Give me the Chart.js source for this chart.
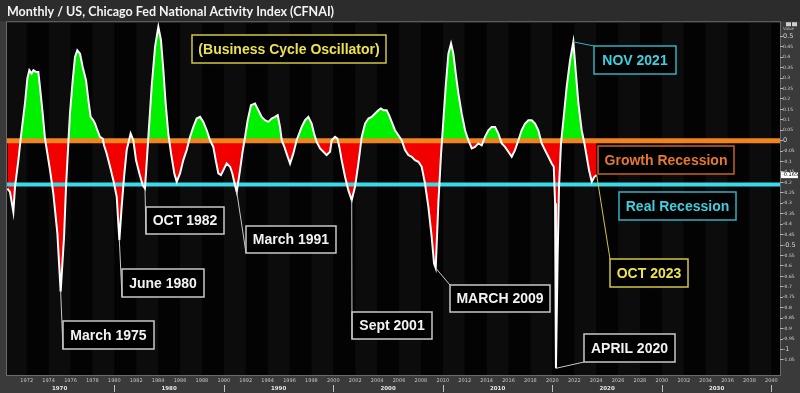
<!DOCTYPE html>
<html>
<head>
<meta charset="utf-8">
<script src="https://cdn.jsdelivr.net/npm/chart.js@4.4.0/dist/chart.umd.min.js"></script>
<style>
  html, body { margin: 0; padding: 0; background: #3a3a3a; }
  canvas { display: block; }
</style>
</head>
<body>
<canvas id="chart" width="800" height="393"></canvas>
<script>
// CFNAI oscillator (decimal year, value)
const years = [
  1970.23, 1970.47, 1970.78, 1970.93, 1971.24, 1971.45, 1971.84, 1972.06, 1972.24, 1972.45,
  1972.61, 1972.85, 1973.06, 1973.21, 1973.46, 1973.67, 1974.13, 1974.43, 1974.80, 1975.10,
  1975.41, 1975.59, 1975.80, 1975.95, 1976.20, 1976.41, 1976.62, 1976.87, 1977.11, 1977.42,
  1977.63, 1977.84, 1978.08, 1978.24, 1978.45, 1978.69, 1978.94, 1979.06, 1979.30, 1979.61,
  1979.91, 1980.22, 1980.46, 1980.67, 1980.89, 1981.13, 1981.49, 1981.74, 1981.98, 1982.29,
  1982.59, 1982.80, 1983.11, 1983.41, 1983.72, 1984.02, 1984.26, 1984.48, 1984.69, 1984.93,
  1985.18, 1985.48, 1985.70, 1986.00, 1986.30, 1986.61, 1986.91, 1987.22, 1987.52, 1987.83,
  1988.13, 1988.44, 1988.74, 1989.04, 1989.26, 1989.50, 1989.74, 1989.96, 1990.26, 1990.57,
  1990.78, 1991.02, 1991.18, 1991.48, 1991.69, 1991.94, 1992.18, 1992.48, 1992.85, 1993.15,
  1993.46, 1993.76, 1994.07, 1994.37, 1994.68, 1994.92, 1995.13, 1995.29, 1995.53, 1995.83,
  1996.05, 1996.35, 1996.65, 1997.11, 1997.42, 1997.72, 1998.02, 1998.24, 1998.48, 1998.79,
  1999.09, 1999.39, 1999.70, 1999.85, 2000.16, 2000.37, 2000.55, 2000.76, 2001.07, 2001.37,
  2001.68, 2001.98, 2002.29, 2002.59, 2002.90, 2003.20, 2003.50, 2003.81, 2004.11, 2004.33,
  2004.57, 2004.87, 2005.09, 2005.33, 2005.63, 2005.94, 2006.24, 2006.55, 2006.85, 2007.16,
  2007.46, 2007.77, 2008.07, 2008.37, 2008.68, 2008.98, 2009.20, 2009.35, 2009.59, 2009.84,
  2010.05, 2010.26, 2010.51, 2010.75, 2010.96, 2011.18, 2011.42, 2011.72, 2012.03, 2012.33,
  2012.64, 2012.94, 2013.24, 2013.55, 2013.85, 2014.16, 2014.46, 2014.77, 2015.07, 2015.38,
  2015.68, 2015.98, 2016.29, 2016.59, 2016.90, 2017.20, 2017.51, 2017.81, 2018.12, 2018.42,
  2018.72, 2019.03, 2019.33, 2019.64, 2019.94, 2020.13, 2020.25, 2020.33, 2020.49, 2020.61,
  2020.79, 2021.01, 2021.31, 2021.62, 2021.92, 2022.13, 2022.38, 2022.68, 2022.93, 2023.14,
  2023.35, 2023.60, 2023.84, 2024.05
];
const values = [
  -0.229, -0.245, -0.341, -0.221, -0.093, 0.010, 0.178, 0.298, 0.337, 0.321,
  0.337, 0.329, 0.329, 0.258, 0.130, 0.010, -0.141, -0.253, -0.444, -0.723,
  -0.460, -0.221, -0.013, 0.130, 0.289, 0.401, 0.433, 0.417, 0.353, 0.289,
  0.194, 0.114, 0.098, 0.082, 0.050, 0.018, 0.010, -0.022, -0.061, -0.125,
  -0.189, -0.269, -0.476, -0.317, -0.173, -0.045, 0.034, 0.002, -0.093, -0.157,
  -0.213, -0.229, 0.018, 0.258, 0.449, 0.545, 0.481, 0.337, 0.178, 0.034,
  -0.061, -0.157, -0.197, -0.157, -0.093, -0.045, 0.018, 0.066, 0.106, 0.114,
  0.090, 0.050, 0.002, -0.030, -0.093, -0.157, -0.165, -0.141, -0.109, -0.125,
  -0.157, -0.213, -0.245, -0.141, -0.061, 0.018, 0.098, 0.170, 0.178, 0.146,
  0.114, 0.098, 0.090, 0.106, 0.114, 0.122, 0.066, 0.002, -0.030, -0.077,
  -0.110, -0.061, 0.002, 0.066, 0.098, 0.114, 0.082, 0.034, -0.006, -0.037,
  -0.053, -0.069, -0.053, 0.002, 0.018, 0.010, -0.030, -0.093, -0.173, -0.237,
  -0.285, -0.221, -0.109, 0.018, 0.082, 0.106, 0.114, 0.130, 0.146, 0.154,
  0.146, 0.146, 0.122, 0.090, 0.050, 0.026, 0.002, -0.045, -0.069, -0.077,
  -0.093, -0.101, -0.125, -0.205, -0.317, -0.460, -0.588, -0.610, -0.301, -0.061,
  0.098, 0.258, 0.417, 0.465, 0.417, 0.321, 0.226, 0.130, 0.050, 0.002,
  -0.037, -0.030, -0.013, -0.022, 0.018, 0.050, 0.066, 0.066, 0.034, -0.013,
  -0.030, -0.053, -0.077, -0.045, 0.002, 0.050, 0.082, 0.098, 0.098, 0.082,
  0.050, -0.013, -0.045, -0.077, -0.109, -0.125, -0.300, -1.090, -0.540, -0.221,
  -0.013, 0.098, 0.258, 0.385, 0.473, 0.337, 0.178, 0.050, -0.013, -0.077,
  -0.141, -0.197, -0.173, -0.165
];

const growthLevel = 0;      // orange "Growth Recession" line
const realLevel = -0.21;    // cyan "Real Recession" line

const yearTicks = [1972, 1974, 1976, 1978, 1980, 1982, 1984, 1986, 1988, 1990, 1992, 1994, 1996, 1998,
  2000, 2002, 2004, 2006, 2008, 2010, 2012, 2014, 2016, 2018, 2020, 2022, 2024, 2026, 2028, 2030,
  2032, 2034, 2036, 2038, 2040];
const decadeLabels = ['1970', '1980', '1990', '2000', '2010', '2020', '2030'];
const valueTicks = [0.5, 0.45, 0.4, 0.35, 0.3, 0.25, 0.2, 0.15, 0.1, 0.05, 0, -0.05, -0.1, -0.15,
  -0.2, -0.25, -0.3, -0.35, -0.4, -0.45, -0.5, -0.55, -0.6, -0.65, -0.7, -0.75, -0.8, -0.85,
  -0.9, -0.95, -1, -1.05];

const X_MIN = 1970.2, X_MAX = 2040.79;
const Y_MIN = -1.122, Y_MAX = 0.567;

const WHITE = '#f2f2f2', WHITE_EDGE = '#c8c8c8';
const CYAN = '#3cd0e0', CYAN_EDGE = '#2fb0c2';
const YELLOW = '#ece24a', YELLOW_EDGE = '#cfc640';
const ORANGE = '#e8782a', ORANGE_EDGE = '#c8641e';

// callouts: box = [left, top, width, height] in px, at = anchor year on the series
const notes = [
  { text: '(Business Cycle Oscillator)', box: [192, 35, 194, 28], color: YELLOW, edge: YELLOW_EDGE },
  { text: 'NOV 2021', at: 2021.92, box: [594, 46, 82, 28], corner: 'tl', color: CYAN, edge: CYAN_EDGE },
  { text: 'Growth Recession', box: [598, 146, 136, 28], color: ORANGE, edge: ORANGE_EDGE },
  { text: 'Real Recession', box: [619, 192, 117, 28], color: CYAN, edge: CYAN_EDGE },
  { text: 'OCT 2023', at: 2024.05, box: [610, 259, 78, 28], corner: 'tl', color: YELLOW, edge: YELLOW_EDGE },
  { text: 'March 1975', at: 1975.10, box: [63, 321, 91, 28], corner: 'bl', color: WHITE, edge: WHITE_EDGE },
  { text: 'June 1980', at: 1980.46, box: [122, 269, 82, 28], corner: 'bl', color: WHITE, edge: WHITE_EDGE },
  { text: 'OCT 1982', at: 1982.80, box: [146, 207, 78, 27], corner: 'bl', color: WHITE, edge: WHITE_EDGE },
  { text: 'March 1991', at: 1991.18, box: [246, 226, 90, 27], corner: 'bl', color: WHITE, edge: WHITE_EDGE },
  { text: 'Sept 2001', at: 2001.68, box: [352, 312, 80, 27], corner: 'bl', color: WHITE, edge: WHITE_EDGE },
  { text: 'MARCH 2009', at: 2009.35, box: [450, 285, 100, 27], corner: 'tl', color: WHITE, edge: WHITE_EDGE },
  { text: 'APRIL 2020', at: 2020.33, box: [584, 334, 91, 28], corner: 'bl', color: WHITE, edge: WHITE_EDGE }
];

const points = years.map((yr, i) => ({ x: yr, y: values[i] }));

function nearestIndex(yr) {
  let best = 0;
  years.forEach((v, i) => { if (Math.abs(v - yr) < Math.abs(years[best] - yr)) best = i; });
  return best;
}

const backdrop = {
  id: 'backdrop',
  beforeDraw(chart) {
    const { ctx, chartArea: a, scales } = chart;
    ctx.save();
    ctx.fillStyle = '#3a3a3a';
    ctx.fillRect(0, 0, chart.width, chart.height);
    ctx.fillStyle = '#2c2c2c';
    ctx.fillRect(0, 0, chart.width, a.top - 1);
    ctx.fillStyle = '#030303';
    ctx.fillRect(a.left, a.top, a.right - a.left, a.bottom - a.top);
    // alternating vertical bands
    ctx.fillStyle = '#0c0c0c';
    for (let yr = 1970; yr < 2042; yr += 4) {
      const l = Math.max(a.left, scales.x.getPixelForValue(yr));
      const r = Math.min(a.right, scales.x.getPixelForValue(yr + 2));
      if (r > l) ctx.fillRect(l, a.top, r - l, a.bottom - a.top);
    }
    ctx.strokeStyle = '#6a6a6a';
    ctx.lineWidth = 1;
    ctx.strokeRect(a.left - 0.5, a.top - 0.5, a.right - a.left + 1, a.bottom - a.top + 1);
    ctx.restore();
  }
};

const callouts = {
  id: 'callouts',
  afterDatasetsDraw(chart) {
    const { ctx, scales: { x, y } } = chart;
    ctx.save();
    notes.forEach(n => {
      const [bx, by, bw, bh] = n.box;
      ctx.fillStyle = '#000';
      ctx.fillRect(bx, by, bw, bh);
      ctx.strokeStyle = n.edge;
      ctx.lineWidth = 1.5;
      ctx.strokeRect(bx, by, bw, bh);
      if (n.at != null) {
        const i = nearestIndex(n.at);
        ctx.lineWidth = 1;
        ctx.beginPath();
        ctx.moveTo(x.getPixelForValue(years[i]), y.getPixelForValue(values[i]));
        ctx.lineTo(bx, n.corner === 'bl' ? by + bh : by);
        ctx.stroke();
      }
      ctx.fillStyle = n.color;
      ctx.font = 'bold 14px "Liberation Sans", Arial, sans-serif';
      ctx.textAlign = 'center';
      ctx.textBaseline = 'middle';
      ctx.fillText(n.text, bx + bw / 2, by + bh / 2 + 1);
    });
    ctx.restore();
  },
  afterDraw(chart) {
    const { ctx, chartArea: a, scales: { x2, y } } = chart;
    ctx.save();
    // decade separators on the lower axis row
    ctx.strokeStyle = '#c0c0c0';
    ctx.lineWidth = 1;
    decadeLabels.slice(1).concat(['2040']).forEach(d => {
      const px = Math.round(x2.getPixelForValue(Number(d))) + 0.5;
      ctx.beginPath();
      ctx.moveTo(px, x2.top + 1);
      ctx.lineTo(px, x2.bottom - 1);
      ctx.stroke();
    });
    // last value tag on the value axis
    const last = values[values.length - 1];
    const py = y.getPixelForValue(last);
    ctx.fillStyle = '#ffffff';
    ctx.fillRect(a.right + 1, py - 3, 17, 6);
    ctx.fillStyle = '#000';
    ctx.font = '5px "DejaVu Sans", sans-serif';
    ctx.textAlign = 'left';
    ctx.textBaseline = 'middle';
    ctx.fillText(last.toFixed(3), a.right + 2, py);
    // axis caption + icons
    ctx.fillStyle = '#cfcfcf';
    ctx.fillRect(a.right + 6, a.top, 5, 4);
    ctx.fillRect(a.right + 12, a.top, 5, 4);
    ctx.font = '4px "DejaVu Sans", sans-serif';
    ctx.fillStyle = '#bdbdbd';
    ctx.fillText('Value', a.right + 3, a.top + 7);
    ctx.restore();
  }
};

const isMajor = v => Math.abs(v * 2 - Math.round(v * 2)) < 1e-6;

new Chart(document.getElementById('chart'), {
  type: 'line',
  data: {
    datasets: [
      { label: 'CFNAI', data: points, borderColor: '#ffffff', borderWidth: 2, pointRadius: 0, fill: false, tension: 0, order: 0 },
      { label: 'Growth Recession', data: [{ x: 1960, y: growthLevel }, { x: 2050, y: growthLevel }], borderColor: '#f2841e', borderWidth: 5, pointRadius: 0, fill: false, order: 1 },
      { label: 'Real Recession', data: [{ x: 1960, y: realLevel }, { x: 2050, y: realLevel }], borderColor: '#3adbe8', borderWidth: 4, pointRadius: 0, fill: false, order: 1 },
      { label: 'area', data: points, borderColor: 'rgba(0,0,0,0)', borderWidth: 0, pointRadius: 0, tension: 0,
        fill: { target: { value: 0 }, above: '#00f000', below: '#f20000' }, order: 2 }
    ]
  },
  options: {
    responsive: false,
    animation: false,
    layout: { padding: { left: 7 } },
    plugins: {
      legend: { display: false },
      tooltip: { enabled: false },
      title: {
        display: true,
        text: 'Monthly / US, Chicago Fed National Activity Index (CFNAI)',
        align: 'start',
        color: '#f4f4f4',
        font: { family: 'Lato', size: 12.5, weight: 'bold', lineHeight: 1.3 },
        padding: { top: 3.5, bottom: 2.5 }
      }
    },
    scales: {
      x: {
        type: 'linear', position: 'bottom', weight: 0, min: X_MIN, max: X_MAX,
        afterBuildTicks: s => { s.ticks = yearTicks.map(v => ({ value: v })); },
        afterFit: s => { s.height = 9; },
        grid: { display: false, drawTicks: false },
        border: { display: false },
        ticks: { color: '#c4c4c4', font: { family: 'DejaVu Sans', size: 5 }, padding: 3,
          maxRotation: 0, autoSkip: false, callback: v => String(v) }
      },
      x2: {
        type: 'linear', position: 'bottom', weight: 1, min: X_MIN, max: X_MAX,
        afterBuildTicks: s => { s.ticks = decadeLabels.map(d => ({ value: Number(d) + 5 })); },
        afterFit: s => { s.height = 9; },
        grid: { display: false, drawTicks: false },
        border: { display: false },
        ticks: { color: '#e6e6e6', font: { family: 'DejaVu Sans', size: 5.5, weight: 'bold' }, padding: 1,
          maxRotation: 0, autoSkip: false, callback: (v, i) => decadeLabels[i] }
      },
      y: {
        position: 'right', min: Y_MIN, max: Y_MAX,
        afterBuildTicks: s => { s.ticks = valueTicks.map(v => ({ value: v })); },
        afterFit: s => { s.width = 20; },
        grid: { drawOnChartArea: false, drawTicks: true, tickLength: 3, color: '#b0b0b0' },
        border: { display: false },
        ticks: {
          color: '#d4d4d4', padding: 0, autoSkip: false,
          font: ctx => ({ family: 'DejaVu Sans', size: ctx.tick && isMajor(ctx.tick.value) ? 6.5 : 4.5 }),
          callback: v => String(Math.round(v * 100) / 100)
        }
      }
    }
  },
  plugins: [backdrop, callouts]
});
</script>
</body>
</html>
